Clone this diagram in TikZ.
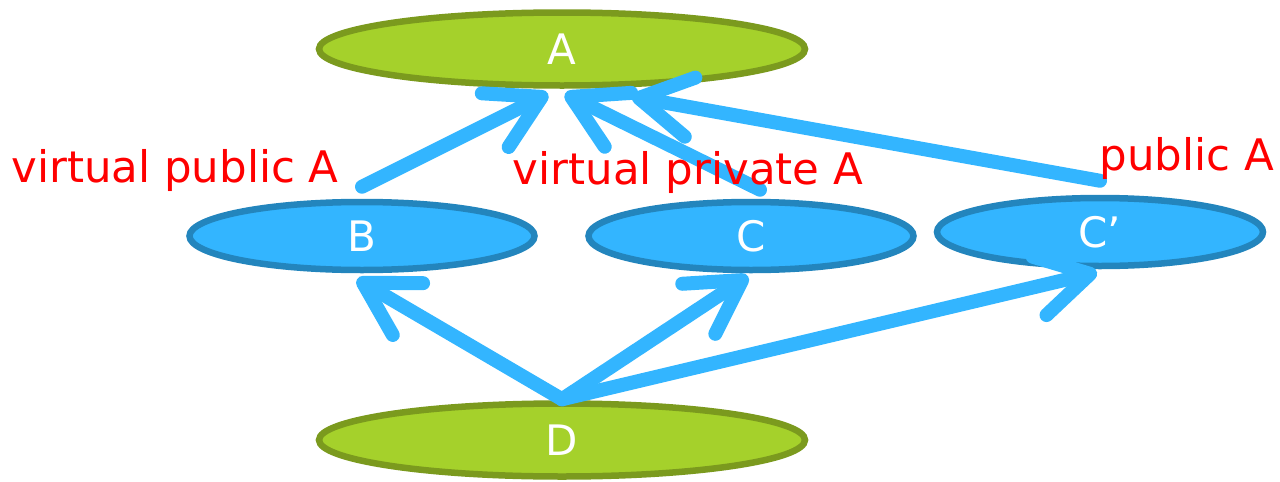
\documentclass[tikz,border=0pt]{standalone}
\usepackage{fontspec}
\setmainfont{DejaVu Sans}
\usetikzlibrary{shapes.geometric,arrows.meta,calc}
\definecolor{leaf}{HTML}{A5D12B}
\definecolor{leafdark}{HTML}{7B9A1E}
\definecolor{sky}{HTML}{33B5FF}
\definecolor{skydark}{HTML}{2385BD}
\definecolor{labelred}{HTML}{FF0000}
\tikzset{
  greenell/.style={ellipse, fill=leaf, draw=leafdark, line width=6.5pt,
    inner sep=0pt, text=white, font=\fontsize{42}{42}\selectfont},
  blueell/.style={ellipse, fill=sky, draw=skydark, line width=6.5pt,
    inner sep=0pt, text=white, font=\fontsize{42}{42}\selectfont},
  inherit/.style={draw=sky, line width=14pt, line cap=round,
    -{Straight Barb[length=52pt,width=60pt,round]}},
  note/.style={text=labelred, font=\fontsize{43.5}{43.5}\selectfont, inner sep=0pt}
}
\begin{document}
\begin{tikzpicture}[x=1pt,y=-1pt]
\useasboundingbox (0,0) rectangle (1280,482);
% class nodes
\node[greenell, minimum width=486pt, minimum height=73pt] (A) at (562,49) {A};
\node[blueell, minimum width=345pt, minimum height=68pt] (B) at (362,236) {B};
\node[blueell, minimum width=325pt, minimum height=68pt] (C) at (751,236) {C};
\node[blueell, minimum width=326pt, minimum height=68pt] (Cp) at (1100,232) {C’};
\node[greenell, minimum width=486pt, minimum height=73pt] (D) at (562,440) {D};
% inheritance edges
\draw[inherit] ($(B.north)+(0,-12)$) -- ($(A.south)+(-14,5)$);
\draw[inherit] ($(C.north)+(9,-9)$) -- ($(A.south)+(3,5)$);
\draw[inherit] ($(Cp.north)+(0,-14)$) -- ($(A.south)+(70,8)$);
\draw[inherit] ($(D.north)+(0,-1)$) -- ($(B.south)+(-5,6)$);
\draw[inherit] ($(D.north)+(0,-1)$) -- ($(C.south)+(-3,3)$);
\draw[inherit] ($(D.north)+(0,-1)$) -- ($(Cp.south)+(-3,3)$);
% inheritance kinds
\node[note] (vpub) at (175,170) {virtual public A};
\node[note] (vpriv) at (688,172) {virtual private A};
\node[note] (pub) at (1187,158) {public A};
\end{tikzpicture}
\end{document}
